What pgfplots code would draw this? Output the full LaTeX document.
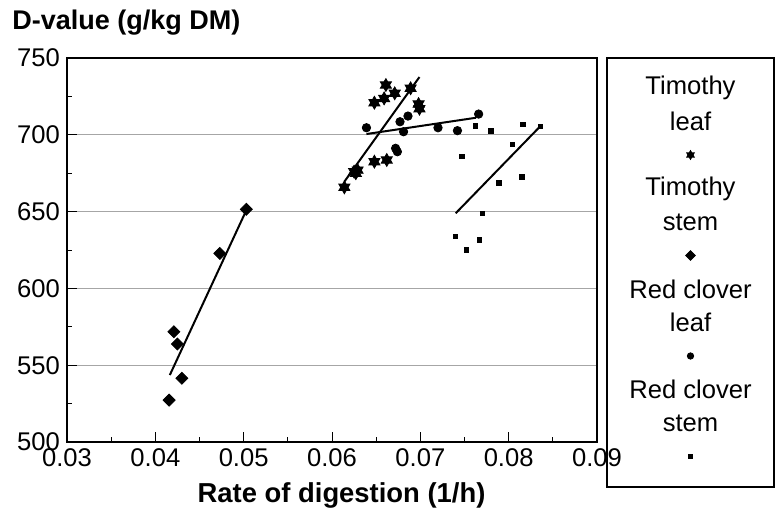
\documentclass[border=0pt]{standalone}
\usepackage{pgfplots}
\pgfplotsset{compat=1.18}
\usepackage{fontspec}
\setmainfont{Liberation Sans}
\pgfdeclareplotmark{hexstar}{%
  \pgfpathmoveto{\pgfpointpolar{90}{\pgfplotmarksize}}%
  \pgfpathlineto{\pgfpointpolar{210}{\pgfplotmarksize}}%
  \pgfpathlineto{\pgfpointpolar{330}{\pgfplotmarksize}}%
  \pgfpathclose
  \pgfpathmoveto{\pgfpointpolar{270}{\pgfplotmarksize}}%
  \pgfpathlineto{\pgfpointpolar{30}{\pgfplotmarksize}}%
  \pgfpathlineto{\pgfpointpolar{150}{\pgfplotmarksize}}%
  \pgfpathclose
  \pgfusepathqfillstroke
}
\pgfdeclareplotmark{sqdiamond}{%
  \pgfpathmoveto{\pgfqpoint{0pt}{\pgfplotmarksize}}%
  \pgfpathlineto{\pgfqpoint{\pgfplotmarksize}{0pt}}%
  \pgfpathlineto{\pgfqpoint{0pt}{-\pgfplotmarksize}}%
  \pgfpathlineto{\pgfqpoint{-\pgfplotmarksize}{0pt}}%
  \pgfpathclose
  \pgfusepathqfillstroke
}
\pgfplotstableread{
x y
0.0661 732.4
0.0689 730.3
0.0648 720.9
0.0659 723.7
0.0671 727.0
0.0698 720.0
0.0699 717.0
0.0648 682.5
0.0662 683.6
0.0625 676.0
0.0629 677.0
0.0627 675.0
0.0614 665.8
}\timleaf
\pgfplotstableread{
x y
0.0503 651.5
0.0473 622.8
0.0421 571.8
0.0425 563.8
0.0430 541.5
0.04156 527.3
}\timstem
\pgfplotstableread{
x y
0.0639 704.6
0.0677 708.5
0.0686 712.2
0.0681 702.0
0.0672 691.2
0.0674 689.0
0.0720 704.6
0.0742 702.7
0.0766 713.5
}\rcleaf
\pgfplotstableread{
x y
0.0762 705.7
0.0780 702.5
0.0816 706.8
0.0836 705.3
0.0804 693.8
0.0747 685.8
0.0789 668.8
0.0815 672.7
0.0770 648.9
0.0740 633.7
0.0767 631.5
0.0752 625.0
}\rcstem
\begin{document}
\begin{tikzpicture}
\useasboundingbox (-33.5pt,-36.5pt) rectangle (355pt,221pt);
\begin{axis}[
  at={(0pt,0pt)}, anchor=south west,
  scale only axis, width=265pt, height=192pt,
  xmin=0.03, xmax=0.09, ymin=500, ymax=750,
  xtick={0.03,0.04,0.05,0.06,0.07,0.08,0.09},
  ytick={500,550,600,650,700,750},
  minor x tick num=1, minor y tick num=1,
  scaled x ticks=false, scaled y ticks=false,
  tick pos=left, tick align=inside,
  major tick length=5pt, minor tick length=2.5pt,
  tick style={black, line width=0.4pt},
  axis line style={line width=0.6pt},
  ymajorgrids, major grid style={gray!70, line width=0.5pt},
  /pgf/number format/assume math mode=true,
  xticklabel style={/pgf/number format/.cd, fixed, fixed zerofill, precision=2},
  ticklabel style={font=\fontsize{12.8}{15}\selectfont},
  xlabel={Rate of digestion (1/h)},
  ylabel={D-value (g/kg DM)},
  every axis x label/.style={at={(axis description cs:0.518,-0.138)}, anchor=center, font=\bfseries\fontsize{13.7}{16}\selectfont},
  every axis y label/.style={at={(axis description cs:-0.104,1.091)}, anchor=west, inner sep=0pt, font=\bfseries\fontsize{13.5}{16}\selectfont},
  clip=false,
]
\addplot[only marks, mark=hexstar, mark size=3.2pt, black] table {\timleaf};
\addplot[only marks, mark=sqdiamond, mark size=3pt, black] table {\timstem};
\addplot[only marks, mark=*, mark size=2.1pt, black] table {\rcleaf};
\addplot[only marks, mark=square*, mark size=1.1pt, black] table {\rcstem};
\addplot[black, line width=1pt, no marks] coordinates {(0.0614,669.5) (0.0699,737.6)};
\addplot[black, line width=1pt, no marks] coordinates {(0.04164,543.6) (0.0504,652.1)};
\addplot[black, line width=1pt, no marks] coordinates {(0.0639,700.5) (0.0763,711.1)};
\addplot[black, line width=1pt, no marks] coordinates {(0.0740,648.9) (0.0836,705.7)};
\end{axis}
\draw[line width=0.6pt] (270pt,-22.5pt) rectangle (353.5pt,192pt);
\begin{scope}[every node/.style={font=\fontsize{12.8}{15}\selectfont, inner sep=0pt}]
\node at (311.75pt,177pt) {Timothy};
\node at (311.75pt,160.25pt) {leaf};
\node at (311.75pt,126.75pt) {Timothy};
\node at (311.75pt,110pt) {stem};
\node at (311.75pt,76.5pt) {Red clover};
\node at (311.75pt,59.75pt) {leaf};
\node at (311.75pt,26.25pt) {Red clover};
\node at (311.75pt,9.5pt) {stem};
\end{scope}
\begin{scope}[shift={(311.75pt,143.5pt)}]\pgfsetplotmarksize{2.2pt}\pgfuseplotmark{hexstar}\end{scope}
\begin{scope}[shift={(311.75pt,93.25pt)}]\pgfsetplotmarksize{2.4pt}\pgfuseplotmark{sqdiamond}\end{scope}
\begin{scope}[shift={(311.75pt,43pt)}]\pgfsetplotmarksize{1.6pt}\pgfuseplotmark{*}\end{scope}
\begin{scope}[shift={(311.75pt,-7.25pt)}]\pgfsetplotmarksize{1pt}\pgfuseplotmark{square*}\end{scope}
\end{tikzpicture}
\end{document}
